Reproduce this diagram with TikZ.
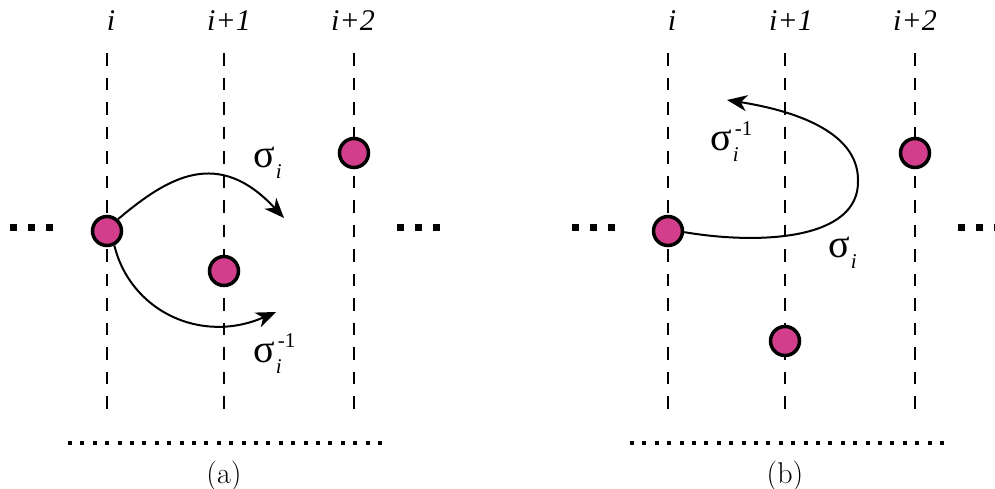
\documentclass[tikz,border=0pt]{standalone}
\usepackage{fontspec}
\newfontfamily\tms{Liberation Serif}
\usetikzlibrary{arrows.meta}
\definecolor{beadc}{RGB}{210,62,140}
\newcommand\sgsub{\rlap{\raisebox{-11pt}{\fontsize{21}{21}\selectfont\itshape i}}}
\newcommand\sgsup{\rlap{\raisebox{15pt}{\fontsize{21}{21}\selectfont -1}}}
\newcommand\sgm{{\fontsize{40}{40}\selectfont σ}}
\begin{document}
\begin{tikzpicture}[x=1pt,y=-1pt,
  strand/.style={line width=2.4pt, dash pattern=on 12.5pt off 12pt},
  bead/.style={circle, draw=black, fill=beadc, line width=3.5pt, minimum size=29pt, inner sep=0pt},
  move/.style={line width=2pt, -{Stealth[length=20pt,width=16pt,inset=6pt]}},
  idx/.style={font=\tms\itshape\fontsize{30}{30}\selectfont, anchor=base, inner sep=0pt},
  captext/.style={font=\fontsize{30}{30}\selectfont, inner sep=0pt},
  sig/.style={font=\tms, anchor=base west, inner sep=0pt}]
\useasboundingbox (0,0) rectangle (995,488);
\clip (0,0) rectangle (995,488);
% strands
\foreach \x in {107,224,354,668,785,915}
  \draw[strand] (\x,53) -- (\x,413);
% index labels
\node[idx] (la1) at (111,30) {i};
\node[idx] (la2) at (229,30) {i+1};
\node[idx] (la3) at (353,30) {i+2};
\node[idx] (lb1) at (672,30) {i};
\node[idx] (lb2) at (791,30) {i+1};
\node[idx] (lb3) at (915,30) {i+2};
% side dots
\foreach \x in {10,28,46,397,415,433,572,590,608,958,976,994}
  \fill (\x,224) rectangle ++(7,7);
% bottom dotted lines
\foreach \k in {0,...,25} {
  \fill (68+12.4*\k,441) rectangle ++(4,4);
  \fill (630+12.4*\k,441) rectangle ++(4,4);
}
% coordinates for free arrow ends
\coordinate (ta) at (284,218);
\coordinate (tb) at (276,312);
\coordinate (pc) at (858,180);
\coordinate (tc) at (727,100);
% beads
\node[bead] (a1) at (107,231) {};
\node[bead] (a2) at (224,271) {};
\node[bead] (a3) at (354,153) {};
\node[bead] (b1) at (668,231) {};
\node[bead] (b2) at (785,341) {};
\node[bead] (b3) at (915,153) {};
% moves
\draw[move] (a1.47) .. controls (168,177) and (218,147) .. (ta);
\draw[move] (a1.-63) .. controls (130,310) and (200,345) .. (tb);
\draw[move] (b1.-4) .. controls (760,245) and (860,240) .. (pc) .. controls (858,130) and (790,110) .. (tc);
% sigma labels
\node[sig] (s1) at (253,167) {\sgm\kern1pt\sgsub};
\node[sig] (s2) at (253,362) {\sgm\kern1pt\sgsub\kern2pt\sgsup};
\node[sig] (s3) at (710,150) {\sgm\kern1pt\sgsub\kern2pt\sgsup};
\node[sig] (s4) at (828,257) {\sgm\kern1pt\sgsub};
% captions
\node[captext] (ca) at (224,476) {(a)};
\node[captext] (cb) at (785,476) {(b)};
\end{tikzpicture}
\end{document}
